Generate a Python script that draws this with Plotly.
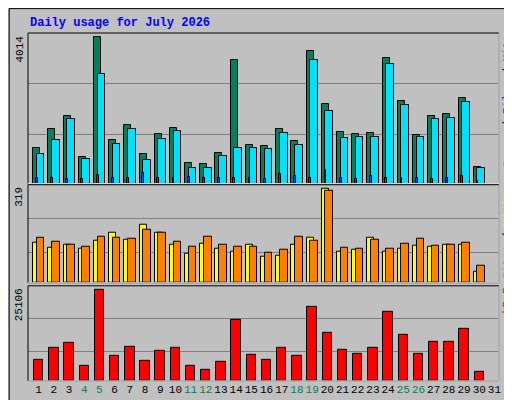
import plotly.graph_objects as go

days = list(range(1, 32))
hits = [990,1507,1862,745,4014,1208,1616,826,1371,1535,554,527,854,3387,1072,1044,1507,1181,3632,2189,1426,1371,1398,3442,2270,1344,1862,1916,2352,445,None]
pages = [826,1208,1780,690,3006,1099,1507,636,1235,1453,418,418,772,990,990,963,1398,1072,3387,1998,1262,1290,1290,3278,2161,1290,1780,1807,2243,418,None]
files = [145,160,120,120,227,160,160,282,160,160,190,160,160,145,160,120,254,200,160,363,160,120,200,160,160,145,120,145,200,64,None]
visits = [136,119,129,115,143,170,146,198,170,129,98,132,115,105,129,88,94,129,153,319,105,112,153,105,115,126,122,129,129,39,None]
sites = [153,139,129,122,157,153,150,181,170,139,122,157,129,122,122,101,112,157,143,312,119,115,146,115,132,150,126,129,136,60,None]
kbytes = [5956,9163,10537,4215,25106,6964,9438,5589,8338,9163,4215,3115,5315,16860,7239,5864,9163,6964,20433,13286,8613,7514,9163,19059,12737,7514,10812,10812,14386,2566,None]
weekend = {4,5,11,12,18,19,25,26}

GRAY = "#c0c0c0"
line = dict(color="black", width=1)
fig = go.Figure()
def bar(x, y, color, width, ya, name):
    fig.add_trace(go.Bar(x=x, y=y, width=width, marker=dict(color=color, line=line),
                         yaxis=ya, name=name, showlegend=False))

bar([d-0.13 for d in days], hits, "#00805c", 0.46, "y", "Hits")
bar([d+0.13 for d in days], pages, "#00e0ff", 0.5, "y", "Pages")
bar([d-0.12 for d in days], files, "#0040ff", 0.12, "y", "Files")
bar([d-0.13 for d in days], visits, "#ffff00", 0.46, "y2", "Visits")
bar([d+0.13 for d in days], sites, "#ff8000", 0.5, "y2", "Sites")
bar(days, kbytes, "#ff0000", 0.62, "y3", "KB F")

ticktext = [f'<span style="color:#00805c">{d}</span>' if d in weekend else str(d) for d in days]
font = "Liberation Mono, DejaVu Sans Mono, monospace"
yax = dict(showticklabels=False, ticks="", showgrid=True, gridcolor="#808080", gridwidth=1, zeroline=False, fixedrange=True)
fig.update_layout(
    width=512, height=400, paper_bgcolor=GRAY, plot_bgcolor=GRAY,
    margin=dict(l=20, r=21, t=25, b=24), barmode="overlay", bargap=0,
    font=dict(family=font, size=12, color="black"),
    xaxis=dict(range=[0.3, 31.3], tickvals=days, ticktext=ticktext, ticks="", showgrid=False,
               zeroline=False, tickangle=0, tickfont=dict(size=11), anchor="y3"),
    yaxis=dict(domain=[0.567, 1], range=[0, 4131], tickvals=[1345, 2734], **yax),
    yaxis2=dict(domain=[0.282, 0.564], range=[0, 334], tickvals=[105, 219], **yax),
    yaxis3=dict(domain=[0, 0.2735], range=[0, 26287], tickvals=[8160, 17140], **yax),
)
shapes = [
    dict(type="rect", xref="paper", yref="paper", x0=-0.04, x1=1.04, y0=-0.06, y1=1.07,
         line=dict(color="black", width=1), layer="below"),
]
for ya in ["y", "y2", "y3"]:
    shapes.append(dict(type="rect", xref="x domain", yref=f"{ya} domain", x0=0, x1=1, y0=0, y1=1,
                       line=dict(color="black", width=1), layer="above"))
    shapes.append(dict(type="line", xref="x domain", yref=f"{ya} domain", x0=1, x1=1, y0=0, y1=1,
                       line=dict(color="white", width=1), layer="above"))
    shapes.append(dict(type="line", xref="x domain", yref=f"{ya} domain", x0=0, x1=1, y0=0, y1=0,
                       line=dict(color="white", width=1), layer="above"))
fig.update_layout(shapes=shapes)

ann = [
    dict(text="<b>Daily usage for July 2026</b>", x=0, y=1, xref="paper", yref="paper", showarrow=False,
         font=dict(color="#0000ff", size=12, family=font), xanchor="left", yanchor="bottom", yshift=1),
]
for ya, label in [("y", "4014"), ("y2", "319"), ("y3", "25106")]:
    ann.append(dict(text=label, textangle=-90, xref="paper", yref=f"{ya} domain", x=0, y=1,
                    xanchor="right", yanchor="top", xshift=-1, showarrow=False, font=dict(size=11)))
right = [("y", '<span style="color:#00c8ff">Pages</span> / <span style="color:#0040ff">Files</span> / <span style="color:#00805c">Hits</span>'),
         ("y2", '<span style="color:#ff8000">Sites</span> / <span style="color:#ffff00">Visits</span>'),
         ("y3", '<span style="color:#ff0000">kB F</span>')]
for ya, label in right:
    ann.append(dict(text=label, textangle=-90, xref="paper", yref=f"{ya} domain", x=1, y=1,
                    xanchor="left", yanchor="top", xshift=0, showarrow=False, font=dict(size=11)))
fig.update_layout(annotations=ann)
fig.write_html("out.html")
